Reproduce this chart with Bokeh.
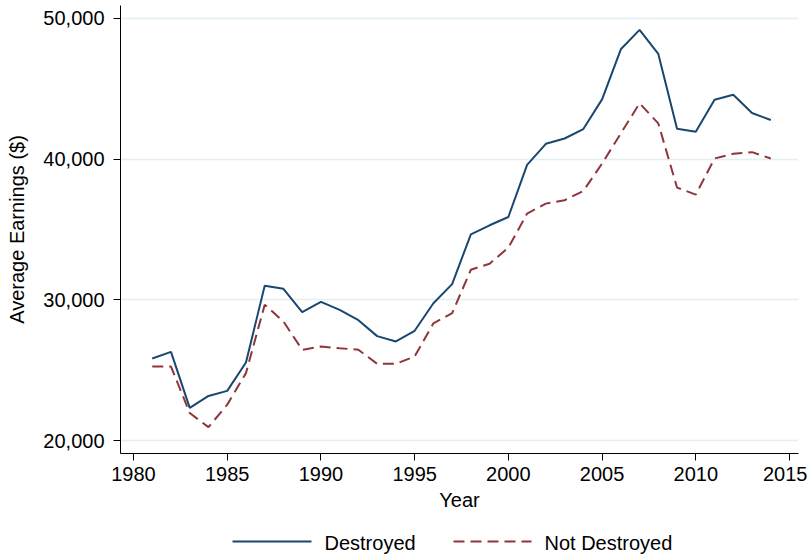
from bokeh.plotting import figure
from bokeh.layouts import column
from bokeh.models import Range1d, FixedTicker, NumeralTickFormatter
from bokeh.core.properties import value
from bokeh.embed import file_html
from bokeh.resources import INLINE

years = list(range(1981, 2015))
destroyed = [25830, 26300, 22320, 23170, 23530, 25545, 30995, 30780, 29120, 29860,
             29290, 28555, 27420, 27040, 27800, 29760, 31120, 34660, 35300, 35890,
             39600, 41090, 41470, 42140, 44250, 47810, 49190, 47480, 42160, 41950,
             44230, 44580, 43280, 42780]
not_destroyed = [25260, 25260, 21950, 20950, 22550, 24790, 29650, 28460, 26450, 26680,
                 26560, 26450, 25450, 25450, 25970, 28330, 29050, 32140, 32570, 33710,
                 36130, 36840, 37080, 37740, 39690, 41830, 43970, 42540, 37980, 37480,
                 40050, 40380, 40500, 40050]
series_names = ["Destroyed", "Not Destroyed"]
x_ticks = [1980, 1985, 1990, 1995, 2000, 2005, 2010, 2015]
y_ticks = [20000, 30000, 40000, 50000]

FONT = "Liberation Sans"
BLUE = "#1a476f"
RED = "#90353b"
DASH = "11 6"

p = figure(width=807, height=525, output_backend="svg", toolbar_location=None,
           x_range=Range1d(1979.306, 2015.48), y_range=Range1d(19076, 50924),
           min_border_left=120, min_border_right=9, min_border_top=5, min_border_bottom=72)
p.outline_line_color = None
p.background_fill_color = "white"
p.border_fill_color = "white"

p.line(years, destroyed, line_color=BLUE, line_width=2)
p.line(years, not_destroyed, line_color=RED, line_width=2, line_dash=DASH)

for ax in (p.xaxis[0], p.yaxis[0]):
    ax.axis_line_color = "black"
    ax.axis_line_width = 1
    ax.major_tick_line_color = "black"
    ax.major_tick_out = 7
    ax.major_tick_in = 0
    ax.minor_tick_line_color = None
    ax.major_label_text_font = FONT
    ax.major_label_text_font_size = "20px"
    ax.major_label_text_color = "black"
    ax.axis_label_text_font = FONT
    ax.axis_label_text_font_size = "20px"
    ax.axis_label_text_font_style = "normal"
    ax.axis_label_text_color = "black"

p.xaxis[0].ticker = FixedTicker(ticks=x_ticks)
p.yaxis[0].ticker = FixedTicker(ticks=y_ticks)
p.yaxis[0].formatter = NumeralTickFormatter(format="0,0")
p.xaxis[0].axis_label = "Year"
p.yaxis[0].axis_label = "Average Earnings ($)"
p.xaxis[0].major_label_standoff = 6
p.yaxis[0].major_label_standoff = 9
p.xaxis[0].axis_label_standoff = 5
p.yaxis[0].axis_label_standoff = 12

p.xgrid.grid_line_color = None
p.ygrid.grid_line_color = "#e4eff0"
p.ygrid.grid_line_width = 1.5
p.ygrid.ticker = FixedTicker(ticks=y_ticks)

# legend strip below the plot; its frame is aligned with the main frame (120..798 px)
lg = figure(width=807, height=30, output_backend="svg", toolbar_location=None,
            x_range=Range1d(120, 798), y_range=Range1d(0, 30),
            min_border_left=120, min_border_right=9, min_border_top=0, min_border_bottom=0,
            x_axis_location=None, y_axis_location=None)
lg.outline_line_color = None
lg.grid.grid_line_color = None
lg.border_fill_color = "white"
lg.background_fill_color = "white"

lg.line(x=[232, 311], y=[14, 14], line_color=BLUE, line_width=2)
lg.line(x=[453, 531], y=[14, 14], line_color=RED, line_width=2, line_dash=DASH)
lg.text(x=[324, 544], y=[13, 13], text=series_names, text_font=value(FONT),
        text_font_size="20px", text_color="black", text_baseline="middle", text_align="left")

layout = column(p, lg, spacing=0)
open("out.html", "w").write(file_html(layout, INLINE))
